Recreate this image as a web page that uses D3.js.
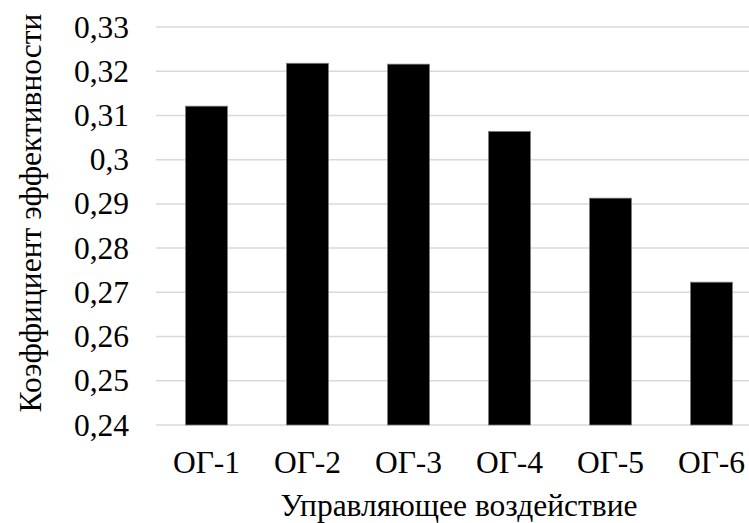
<!DOCTYPE html>
<html lang="ru">
<head>
  <meta charset="UTF-8">
  <title>Коэффициент эффективности</title>
  <style>
    body { margin: 0; background: #fff; }
    svg text { fill: #000; }
    .grid line { stroke: #d9d9d9; stroke-width: 1.5px; }
    .bar { fill: #000; stroke: #7f7f7f; stroke-width: 0.75px; }
  </style>
</head>
<body>
  <script src="https://cdn.jsdelivr.net/npm/d3@7"></script>
  <script>
    const width = 749, height = 523;
    const categories = ['ОГ-1', 'ОГ-2', 'ОГ-3', 'ОГ-4', 'ОГ-5', 'ОГ-6'];
    const values = [0.3121, 0.3218, 0.3216, 0.3064, 0.2913, 0.2723];
    const yTicks = [0.24, 0.25, 0.26, 0.27, 0.28, 0.29, 0.3, 0.31, 0.32, 0.33];
    const xTitle = 'Управляющее воздействие';
    const yTitle = 'Коэффициент эффективности';

    const serif = "'Liberation Serif', 'Times New Roman', serif";
    const fontSize = 31.5;
    const plotLeft = 156, plotRight = 762, plotTop = 27, plotBottom = 425;
    const x = d3.scaleBand().domain(categories).range([plotLeft, plotRight]).paddingInner(0.584).paddingOuter(0.292);
    const y = d3.scaleLinear().domain([0.24, 0.33]).range([plotBottom, plotTop]);
    const fmt = v => String(+v.toFixed(2)).replace('.', ',');

    const svg = d3.select('body').append('svg').attr('width', width).attr('height', height);

    // gridlines
    svg.append('g').attr('class', 'grid')
      .selectAll('line').data(yTicks).enter().append('line')
      .attr('x1', plotLeft).attr('x2', plotRight)
      .attr('y1', d => y(d)).attr('y2', d => y(d));

    // bars
    svg.append('g').selectAll('rect').data(values).enter().append('rect')
      .attr('class', 'bar')
      .attr('x', (d, i) => x(categories[i]))
      .attr('width', x.bandwidth())
      .attr('y', d => y(d))
      .attr('height', d => plotBottom - y(d));

    // y axis labels
    const yAxis = svg.append('g').attr('transform', `translate(${plotLeft - 27},0)`)
      .call(d3.axisLeft(y).tickValues(yTicks).tickFormat(fmt).tickSize(0).tickPadding(0));
    yAxis.attr('font-family', serif).attr('font-size', fontSize);
    yAxis.select('.domain').remove();

    // x axis labels
    const xAxis = svg.append('g').attr('transform', `translate(0,${plotBottom + 26})`)
      .call(d3.axisBottom(x).tickSize(0).tickPadding(0));
    xAxis.attr('font-family', serif).attr('font-size', fontSize);
    xAxis.select('.domain').remove();

    svg.append('text')
      .attr('x', (plotLeft + plotRight) / 2).attr('y', 516)
      .attr('text-anchor', 'middle').attr('font-family', serif).attr('font-size', fontSize)
      .text(xTitle);

    svg.append('text')
      .attr('transform', 'translate(41,213) rotate(-90)')
      .attr('text-anchor', 'middle').attr('font-family', serif).attr('font-size', fontSize)
      .text(yTitle);
  </script>
</body>
</html>
